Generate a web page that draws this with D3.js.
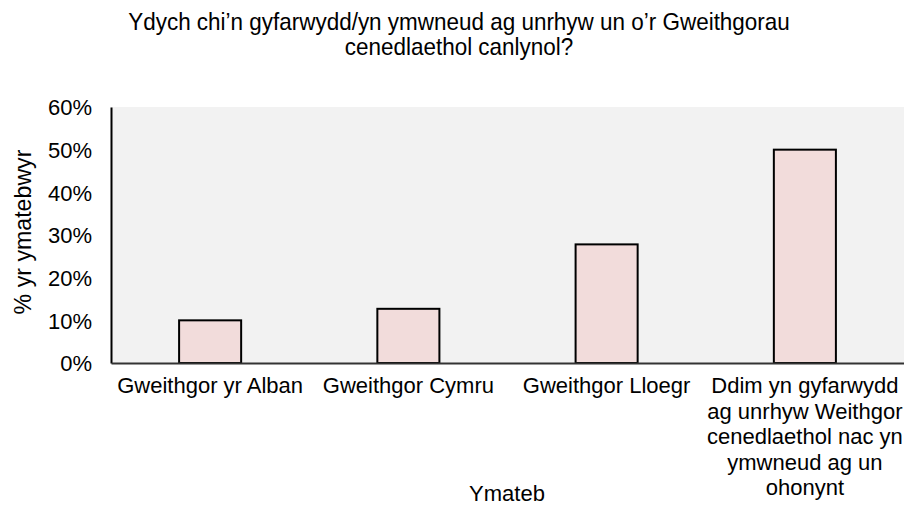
<!DOCTYPE html>
<html><head><meta charset="utf-8">
<script src="https://cdn.jsdelivr.net/npm/d3@7"></script>
<style>body{margin:0;background:#fff}svg{display:block}text{font-family:"Liberation Sans",Arial,sans-serif;fill:#000}</style>
</head><body>
<svg id="c" width="904" height="529"></svg>
<script>
const categories = ["Gweithgor yr Alban","Gweithgor Cymru","Gweithgor Lloegr","Ddim yn gyfarwydd ag unrhyw Weithgor cenedlaethol nac yn ymwneud ag un ohonynt"];
const categoryLines = [["Gweithgor yr Alban"],["Gweithgor Cymru"],["Gweithgor Lloegr"],["Ddim yn gyfarwydd","ag unrhyw Weithgor","cenedlaethol nac yn","ymwneud ag un","ohonynt"]];
const values = [0.10, 0.127, 0.278, 0.50];
const yTicks = [0,0.1,0.2,0.3,0.4,0.5,0.6];
const titleLines = ["Ydych chi’n gyfarwydd/yn ymwneud ag unrhyw un o’r Gweithgorau","cenedlaethol canlynol?"];
const yTitle = "% yr ymatebwyr";
const xTitle = "Ymateb";

const svg = d3.select("#c");
const m = {l:111, r:904, t:107, b:363};
const x = d3.scaleBand().domain(categories).range([m.l,m.r]).paddingInner(0.687).paddingOuter(0.3435);
const y = d3.scaleLinear().domain([0,0.6]).range([m.b,m.t]);

svg.append("rect").attr("x",m.l).attr("y",m.t).attr("width",m.r-m.l).attr("height",m.b-m.t).attr("fill","#f2f2f2");

svg.append("g").selectAll("rect").data(values).join("rect")
  .attr("x",(d,i)=>x(categories[i])).attr("width",x.bandwidth())
  .attr("y",d=>y(d)).attr("height",d=>y(0)-y(d))
  .attr("fill","#f2dcdb").attr("stroke","#000").attr("stroke-width",2);

const ya = svg.append("g").attr("transform",`translate(${m.l},0)`)
  .call(d3.axisLeft(y).tickValues(yTicks).tickFormat(d3.format(".0%")).tickSize(0).tickPadding(19));
ya.select(".domain").attr("stroke","#000").attr("stroke-width",2);
ya.selectAll("text").style("font-size","22px").attr("dy","0.36em");

const xa = svg.append("g").attr("transform",`translate(0,${m.b})`)
  .call(d3.axisBottom(x).tickSize(0).tickFormat(""));
xa.select(".domain").attr("stroke","#333").attr("stroke-width",2);
xa.selectAll(".tick").each(function(d,i){
  const t = d3.select(this).append("text").attr("text-anchor","middle").style("font-size","22px").attr("y",30);
  categoryLines[i].forEach((ln,j)=>t.append("tspan").attr("x",0).attr("dy",j?25.5:0).text(ln));
});

// title (condensed)
const tg = svg.append("g");
const tt = tg.append("text").attr("text-anchor","middle").style("font-size","24px");
tt.selectAll("tspan").data(titleLines).join("tspan").attr("x",0).attr("dy",(d,i)=>i?25:0).text(d=>d);
const w1 = tt.select("tspan").node().getComputedTextLength();
tg.attr("transform",`translate(459,30) scale(${662/w1},1)`);

// y title (condensed)
const yg = svg.append("g");
const yt = yg.append("text").attr("text-anchor","middle").style("font-size","23px").text(yTitle);
const wy = yt.node().getComputedTextLength();
yg.attr("transform",`translate(31,232) rotate(-90) scale(${165/wy},1)`);

svg.append("text").attr("x",507).attr("y",501).attr("text-anchor","middle").style("font-size","22px").text(xTitle);
</script>
</body></html>
